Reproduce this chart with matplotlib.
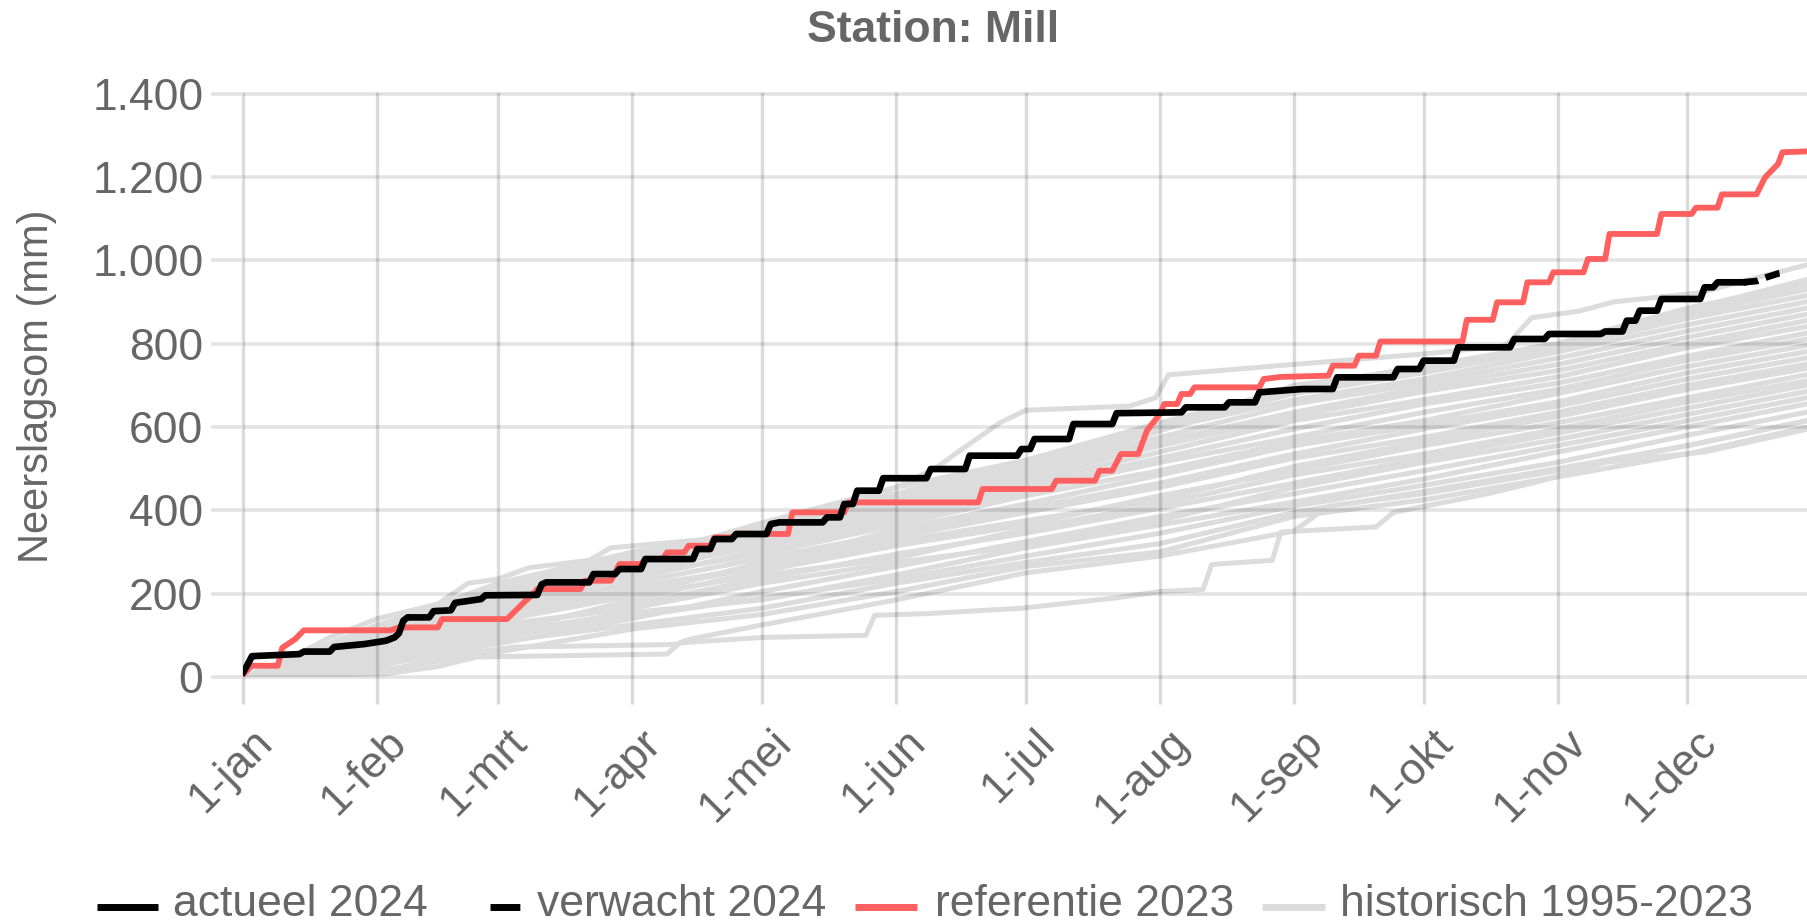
import matplotlib
matplotlib.use("Agg")
import matplotlib.pyplot as plt
from matplotlib.lines import Line2D
from matplotlib.transforms import ScaledTranslation

# ---------------- data ----------------
month_days = [0, 31, 59, 90, 120, 151, 181, 212, 243, 273, 304, 334]
month_labels = ["1-jan", "1-feb", "1-mrt", "1-apr", "1-mei", "1-jun",
                "1-jul", "1-aug", "1-sep", "1-okt", "1-nov", "1-dec"]
y_ticks = [0, 200, 400, 600, 800, 1000, 1200, 1400]
y_tick_labels = ["0", "200", "400", "600", "800", "1.000", "1.200", "1.400"]

# actueel 2024 (cumulative mm per day-of-year)
actual_days = [0, 1, 2, 13, 14, 20, 21, 28, 33, 35, 36, 37, 38, 43, 44, 48, 49, 55, 56, 68,
               69, 70, 80, 81, 86, 87, 92, 93, 104, 105, 108, 109, 113, 114, 121, 122, 124,
               134, 135, 138, 139, 141, 142, 147, 148, 158, 159, 167, 168, 179, 180, 182,
               183, 191, 192, 201, 202, 217, 218, 227, 228, 234, 235, 240, 245, 252, 253,
               266, 267, 272, 273, 280, 281, 293, 294, 301, 302, 314, 315, 319, 320, 322,
               323, 327, 328, 337, 338, 340, 341, 347]
actual_mm = [12, 30, 50, 55, 61, 61, 72, 79, 87, 95, 105, 135, 143, 143, 158, 160, 178, 187, 196, 197,
             222, 227, 227, 247, 247, 259, 259, 283, 283, 307, 307, 331, 331, 343, 343, 367, 371,
             371, 383, 383, 415, 415, 447, 447, 477, 477, 499, 499, 531, 531, 547, 547,
             571, 571, 607, 607, 633, 635, 647, 647, 659, 659, 683, 687, 691, 691, 719,
             719, 739, 739, 759, 759, 791, 791, 811, 811, 823, 823, 829, 829, 855, 855,
             879, 879, 907, 907, 935, 935, 947, 947]

# verwacht 2024
forecast_days = [347, 350, 352, 355, 357]
forecast_mm = [947, 950, 958, 968, 972]

# referentie 2023
ref_days = [0, 2, 8, 9, 12, 14, 34, 36, 45, 46, 61, 65, 67, 68, 78, 79, 85, 87, 92, 93, 97, 98,
            102, 103, 108, 109, 113, 114, 126, 127, 139, 140, 170, 171, 187, 188, 197, 198,
            201, 203, 207, 209, 212, 213, 216, 217, 219, 220, 235, 236, 240, 251, 252, 257,
            258, 262, 263, 282, 283, 289, 290, 296, 297, 302, 303, 310, 311, 315, 316, 327,
            328, 335, 336, 341, 342, 350, 352, 355, 356, 364]
ref_mm = [7, 27, 27, 70, 91, 112, 112, 119, 119, 139, 139, 180, 199, 211, 211, 231, 231, 271, 271, 283, 283, 299,
          299, 315, 315, 335, 335, 344, 343, 395, 395, 419, 419, 451, 451, 471, 471, 495,
          495, 535, 535, 591, 631, 655, 655, 679, 679, 695, 695, 715, 720, 723, 747, 747,
          771, 771, 805, 805, 857, 857, 899, 899, 947, 947, 971, 971, 1003, 1003, 1063, 1063,
          1111, 1111, 1126, 1126, 1158, 1158, 1199, 1231, 1259, 1262]

# historisch 1995-2023 (read at month starts, last column = end of year)
hist_days = [0, 31, 59, 90, 120, 151, 181, 212, 243, 273, 304, 334, 364]
hist_mm = [
    [0, 15, 60, 115, 150, 205, 265, 300, 385, 425, 480, 535, 605],
    [0, 40, 85, 125, 165, 225, 275, 320, 395, 445, 500, 555, 620],
    [0, 25, 95, 145, 190, 235, 290, 345, 410, 460, 515, 580, 640],
    [0, 55, 105, 155, 185, 245, 310, 365, 420, 475, 540, 600, 660],
    [0, 35, 80, 140, 205, 265, 325, 385, 440, 495, 555, 615, 675],
    [0, 65, 125, 165, 225, 275, 315, 375, 455, 515, 570, 630, 690],
    [0, 45, 115, 175, 235, 295, 345, 405, 465, 525, 585, 645, 705],
    [0, 85, 145, 195, 245, 285, 355, 415, 485, 535, 595, 660, 715],
    [0, 40, 105, 185, 255, 315, 365, 435, 495, 555, 610, 670, 730],
    [0, 75, 155, 215, 265, 325, 375, 425, 505, 565, 625, 690, 745],
    [0, 55, 135, 195, 275, 335, 395, 455, 525, 575, 635, 700, 755],
    [0, 95, 165, 225, 285, 345, 405, 465, 535, 595, 650, 715, 770],
    [0, 65, 145, 205, 265, 355, 415, 485, 555, 605, 660, 730, 785],
    [0, 105, 175, 245, 295, 365, 435, 495, 565, 615, 680, 745, 800],
    [0, 50, 125, 235, 305, 375, 445, 515, 575, 635, 690, 760, 815],
    [0, 115, 195, 255, 315, 385, 455, 525, 595, 655, 705, 770, 830],
    [0, 80, 165, 255, 325, 395, 465, 540, 615, 665, 720, 790, 845],
    [0, 95, 185, 265, 335, 405, 475, 555, 625, 685, 735, 800, 860],
    [0, 120, 205, 275, 345, 415, 485, 565, 635, 695, 750, 815, 875],
    [0, 70, 155, 245, 325, 425, 495, 575, 655, 705, 765, 830, 890],
    [0, 110, 195, 285, 355, 435, 505, 595, 665, 715, 780, 845, 905],
    [0, 90, 175, 265, 345, 425, 515, 600, 680, 730, 790, 860, 920],
    [0, 125, 215, 295, 360, 440, 520, 610, 690, 740, 795, 870, 935],
    [0, 120, 225, 300, 350, 435, 510, 605, 695, 745, 800, 885, 950],
    [0, 105, 205, 290, 340, 420, 500, 590, 700, 740, 800, 880, 960],
    [0, 100, 190, 280, 370, 455, 520, 600, 690, 735, 795, 875, 940],
]
# three historical years with a distinctive course
low_days = [0, 33, 45, 54, 98, 101, 120, 144, 146, 158, 180, 202, 212, 222, 224, 238, 240,
            262, 266, 288, 300, 315, 338, 364]
low_mm = [0, 8, 25, 48, 55, 82, 95, 100, 148, 152, 165, 190, 205, 210, 270, 280, 348,
          360, 395, 440, 470, 515, 540, 600]
low2_days = [0, 31, 63, 100, 103, 120, 151, 181, 212, 243, 251, 273, 304, 334, 364]
low2_mm = [0, 30, 72, 78, 90, 125, 185, 250, 290, 350, 410, 440, 495, 555, 620]
top_days = [0, 10, 20, 31, 45, 52, 59, 66, 80, 85, 107, 120, 135, 145, 151, 160, 166, 175,
            181, 205, 211, 214, 243, 273, 292, 298, 309, 317, 337, 347, 364]
top_mm = [0, 40, 95, 140, 175, 225, 235, 262, 280, 310, 330, 365, 400, 430, 455, 500, 545, 610,
          640, 650, 670, 725, 750, 775, 795, 862, 878, 900, 922, 950, 995]

# ---------------- layout ----------------
W, H, DPI = 1807, 923, 100
plt.rcParams["font.family"] = ["Liberation Sans", "DejaVu Sans"]
TXT = "#666666"
TICK_V = "#d9d9d9"
TICK_H = "#e3e3e3"

fig = plt.figure(figsize=(W / DPI, H / DPI), dpi=DPI)


def fxp(px):
    return px / W


def fyp(py):
    return 1 - py / H


ax_left, ax_bottom, ax_top = 243.3, 677.0, 93.5
ax = fig.add_axes([fxp(ax_left), fyp(ax_bottom), 1 - fxp(ax_left), fyp(ax_top) - fyp(ax_bottom)])
ax.set_xlim(0, (W - ax_left) / 4.3234)
ax.set_ylim(0, 1400)
for s in ax.spines.values():
    s.set_visible(False)

GRAY = "#dcdcdc"
GLW = 3.6
for row in hist_mm:
    ax.plot(hist_days, row, color=GRAY, lw=GLW, zorder=1)
ax.plot(low_days, low_mm, color=GRAY, lw=GLW, zorder=1)
ax.plot(low2_days, low2_mm, color=GRAY, lw=GLW, zorder=1)
ax.plot(top_days, top_mm, color=GRAY, lw=GLW, zorder=1)

RED = "#ff5f5f"
ax.plot(ref_days, ref_mm, color=RED, lw=4.2, zorder=3)
ax.plot(actual_days, actual_mm, color="black", lw=4.8, zorder=4)
ax.plot(forecast_days, forecast_mm, color="black", lw=4.8, zorder=4,
        linestyle=(0, (2.2, 1.2)))

# grid / ticks
ax.set_axisbelow(False)
ax.set_xticks(month_days)
ax.set_yticks(y_ticks, labels=y_tick_labels)
ax.xaxis.grid(True, color="black", alpha=0.14, linewidth=2.4)
ax.yaxis.grid(True, color="black", alpha=0.11, linewidth=2.6)
for gl in ax.get_xgridlines() + ax.get_ygridlines():
    gl.set_clip_on(False)
ax.tick_params(axis="x", direction="out", length=19.7, width=2.4, color=TICK_V,
               labelbottom=False)
ax.tick_params(axis="y", direction="out", length=22.7, width=2.6, color=TICK_H,
               pad=6, labelsize=32, labelcolor=TXT)

lab_tr = ax.get_xaxis_transform() + ScaledTranslation(30.7 / DPI, -67 / DPI, fig.dpi_scale_trans)
for d, lab in zip(month_days, month_labels):
    ax.text(d, 0, lab, transform=lab_tr, rotation=45, rotation_mode="anchor",
            ha="right", va="baseline", fontsize=32, color=TXT, clip_on=False)

# title and axis title
fig.text(fxp(933.3), fyp(41.7), "Station: Mill", ha="center", va="baseline",
         fontsize=32, fontweight="bold", color=TXT)
fig.text(fxp(37), fyp(386), "Neerslagsom (mm)", rotation=90, ha="center", va="center",
         fontsize=30, color=TXT)

# legend (drawn by hand to match positions)
leg_y = fyp(907)
leg_items = [
    (96.7, 158.3, "black", "-", 173.0, "actueel 2024"),
    (490.0, 552.0, "black", (0, (4.3, 5.8)), 536.7, "verwacht 2024"),
    (855.3, 917.4, RED, "-", 934.7, "referentie 2023"),
    (1261.5, 1325.2, GRAY, "-", 1339.6, "historisch 1995-2023"),
]
for x0, x1, col, ls, tx, lab in leg_items:
    fig.add_artist(Line2D([fxp(x0), fxp(x1)], [leg_y, leg_y], transform=fig.transFigure,
                          color=col, lw=5, linestyle=ls, solid_capstyle="butt",
                          dash_capstyle="butt"))
    fig.text(fxp(tx), fyp(916), lab, ha="left", va="baseline", fontsize=32, color=TXT)

fig.savefig("out.png", dpi=DPI)
